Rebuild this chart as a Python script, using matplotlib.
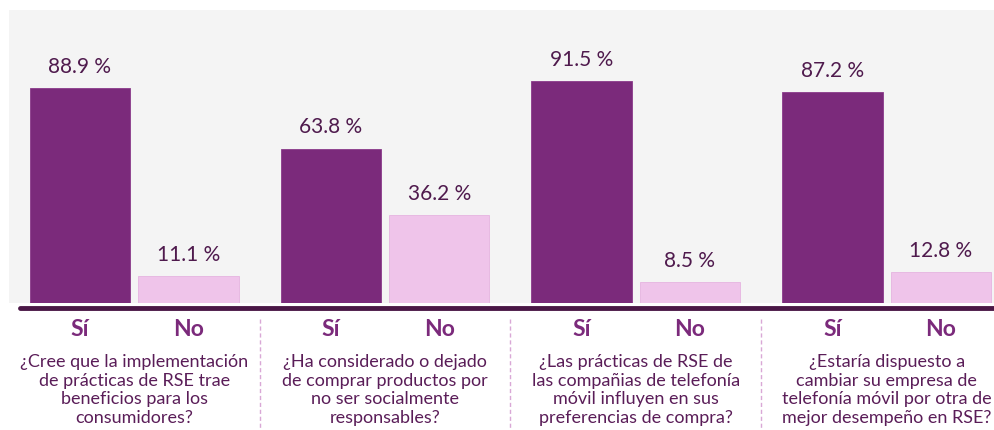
import numpy as np
import matplotlib.pyplot as plt
import matplotlib.transforms as mtransforms

plt.rcParams['font.family'] = ['Lato', 'DejaVu Sans']

# data
questions = [
    "¿Cree que la implementación\nde prácticas de RSE trae\nbeneficios para los\nconsumidores?",
    "¿Ha considerado o dejado\nde comprar productos por\nno ser socialmente\nresponsables?",
    "¿Las prácticas de RSE de\nlas compañias de telefonía\nmóvil influyen en sus\npreferencias de compra?",
    "¿Estaría dispuesto a\ncambiar su empresa de\ntelefonía móvil por otra de\nmejor desempeño en RSE?",
]
si_vals = [88.9, 63.8, 91.5, 87.2]
no_vals = [11.1, 36.2, 8.5, 12.8]
answer_labels = ["Sí", "No"]

si_color = "#7b2a7b"
no_color = "#efc4ea"
text_dark = "#4f1a4d"

fig = plt.figure(figsize=(9.95, 4.31), dpi=100)
ax = fig.add_axes([9 / 995, 127 / 431, 986 / 995, 293 / 431])
ax.set_facecolor("#f4f4f4")

x = np.arange(len(questions))
w = 0.40
off = 0.216

bars_si = ax.bar(x - off, si_vals, w, color=si_color, edgecolor="#8a3a8a", linewidth=0.6)
bars_no = ax.bar(x + off, no_vals, w, color=no_color, edgecolor="#e6b4e0", linewidth=0.6)

for bars in (bars_si, bars_no):
    for b in bars:
        ax.annotate(f"{b.get_height():.1f} %", (b.get_x() + b.get_width() / 2, b.get_height()),
                    xytext=(0, 16), textcoords="offset points", ha="center", va="center",
                    fontsize=15, color=text_dark)

ax.set_xlim(-0.499, 3.432)
ax.set_ylim(0, 121)
ax.set_xticks([])
ax.set_yticks([])
for s in ax.spines.values():
    s.set_visible(False)

# thick baseline below the plot area
trans = mtransforms.blended_transform_factory(fig.transFigure, ax.transAxes)
ax.plot([20 / 995, 1.0], [-5 / 293, -5 / 293], transform=trans, color="#4a1746",
        linewidth=3.5, clip_on=False, solid_capstyle="round")

xt = ax.get_xaxis_transform()
for i in range(len(questions)):
    ax.text(x[i] - off, -26 / 293, answer_labels[0], transform=xt, ha="center", va="center",
            fontsize=16.5, fontweight="bold", color=si_color)
    ax.text(x[i] + off, -26 / 293, answer_labels[1], transform=xt, ha="center", va="center",
            fontsize=16.5, fontweight="bold", color=si_color)
    ax.text(x[i], -50 / 293, questions[i], transform=xt, ha="center", va="top",
            fontsize=13, color="#5a1d58", linespacing=1.2)
    if i > 0:
        ax.plot([x[i] - 0.5, x[i] - 0.5], [-16 / 293, -127 / 293], transform=xt,
                color="#d9a8d6", linewidth=1, linestyle=(0, (3, 2)), clip_on=False)

fig.savefig("out.png", dpi=100)
